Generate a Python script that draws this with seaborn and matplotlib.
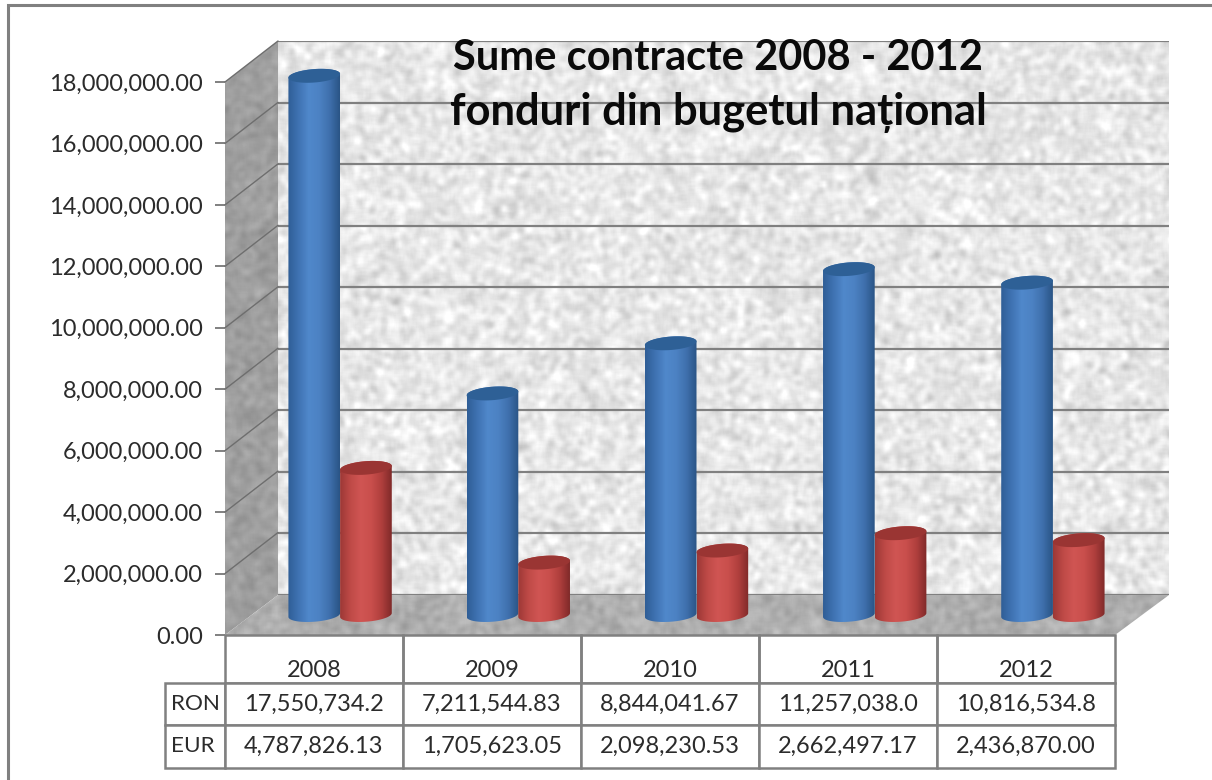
#!/usr/bin/env python
import numpy as np
import pandas as pd
import matplotlib
matplotlib.use("Agg")
import matplotlib.pyplot as plt
import seaborn as sns
from matplotlib.colors import LinearSegmentedColormap
from matplotlib.patches import Polygon
from matplotlib.table import Table

# values
years = ["2008", "2009", "2010", "2011", "2012"]
ron_values = [17550734.2, 7211544.83, 8844041.67, 11257038.0, 10816534.8]
eur_values = [4787826.13, 1705623.05, 2098230.53, 2662497.17, 2436870.00]
ron_labels = ["17,550,734.2", "7,211,544.83", "8,844,041.67", "11,257,038.0", "10,816,534.8"]
eur_labels = ["4,787,826.13", "1,705,623.05", "2,098,230.53", "2,662,497.17", "2,436,870.00"]
y_ticks = [0, 2e6, 4e6, 6e6, 8e6, 10e6, 12e6, 14e6, 16e6, 18e6]
title_lines = ["Sume contracte 2008 - 2012", "fonduri din bugetul național"]

W, H = 1212, 780
GREY = "#808080"
TEXT = "#2b2b2b"

sns.set_theme(style="white")
plt.rcParams["font.family"] = ["Lato", "DejaVu Sans"]


def add_axes_px(fig, left, top, right, bottom, **kw):
    """Axes placed with pixel edges, y counted from the top of the image."""
    return fig.add_axes([left / W, 1 - bottom / H, (right - left) / W, (bottom - top) / H], **kw)


def mottled(h, w, mean, std, blur=6):
    """Stone-like wall texture from a sine hash, no data in it."""
    yy, xx = np.mgrid[0:h, 0:w]
    noise = np.sin(xx * 12.9898 + yy * 78.233 + xx * yy * 0.0173) * 43758.5453
    noise = noise - np.floor(noise)
    kernel = np.zeros((h, w))
    kernel[:blur, :blur] = 1 / blur ** 2
    smooth = np.fft.ifft2(np.fft.fft2(noise) * np.fft.fft2(kernel) ** 2).real
    smooth = (smooth - smooth.mean()) / smooth.std()
    return np.clip(mean + std * smooth, 0, 1)


def surface(ax, corners, mean, std):
    pts = np.array(corners)
    x0, x1 = pts[:, 0].min(), pts[:, 0].max()
    y0, y1 = pts[:, 1].min(), pts[:, 1].max()
    im = ax.imshow(mottled(y1 - y0, x1 - x0, mean, std), cmap="gray", vmin=0, vmax=1,
                   extent=(x0, x1, y1, y0), aspect="auto", interpolation="bilinear")
    im.set_clip_path(Polygon(corners, transform=ax.transData))


fig = plt.figure(figsize=(W / 100, H / 100), dpi=100, facecolor="white")

# walls and floor, in image pixels
bg = fig.add_axes([0, 0, 1, 1])
surface(bg, [(278, 41), (1169, 41), (1169, 595), (278, 595)], 0.905, 0.035)
surface(bg, [(225, 82), (278, 41), (278, 595), (225, 635)], 0.62, 0.02)
surface(bg, [(278, 595), (1169, 595), (1115, 635), (225, 635)], 0.68, 0.025)
bg.plot([8, 8, W], [H, 5, 5], color=GREY, lw=2.2, solid_joinstyle="miter")
bg.set_xlim(0, W)
bg.set_ylim(H, 0)
bg.axis("off")

# back wall gridlines and title
ax_back = add_axes_px(fig, 278, 41, 1169, 595)
ax_back.patch.set_alpha(0)
ax_back.set_ylim(0, 18e6)
ax_back.set_yticks(y_ticks)
ax_back.set_xticks([])
ax_back.tick_params(left=False, labelleft=False)
ax_back.grid(axis="y", color=GREY, lw=1.6)
sns.despine(ax=ax_back, left=True, bottom=True, right=True, top=True)
for txt, py, size in zip(title_lines, [58, 113], [30, 31.3]):
    ax_back.text((718 - 278) / 891, 1 - (py - 41) / 554, txt, transform=ax_back.transAxes,
                 ha="center", va="center", fontsize=size, fontweight="bold", color="#0a0a0a")

# front plane: value axis, side wall lines, table
ax_front = add_axes_px(fig, 225, 82, 1115, 635)
ax_front.patch.set_alpha(0)
ax_front.set_xlim(0, 890)
ax_front.set_ylim(0, 18e6)
ax_front.set_yticks(y_ticks)
ax_front.set_yticklabels([f"{v:,.2f}" for v in y_ticks], fontsize=17, color=TEXT)
ax_front.set_xticks([89 + 178 * i for i in range(len(years))])
ax_front.set_xticklabels(years, fontsize=17, color=TEXT)
ax_front.tick_params(axis="y", left=True, length=7.5, width=1.4, color=GREY, pad=8.5)
ax_front.tick_params(axis="x", bottom=False, pad=12)
sns.despine(ax=ax_front, left=True, bottom=True, right=True, top=True)
depth_y = 41 * 18e6 / 553
for v in y_ticks[1:]:
    ax_front.plot([0, 53], [v, v + depth_y], color="#6e6e6e", lw=1.0, clip_on=False)

col_widths = [60] + [178] * 5
row_heights = [48, 42, 43]
rows = [[""] * 6, ["RON"] + ron_labels, ["EUR"] + eur_labels]
tbl = Table(ax_front, bbox=[-60 / 890, -133 / 553, 950 / 890, 133 / 553])
for r, row in enumerate(rows):
    for c, txt in enumerate(row):
        if r == 0 and c == 0:
            continue
        cell = tbl.add_cell(r, c, width=col_widths[c], height=row_heights[r], text=txt,
                            loc="left" if c == 0 else "center", edgecolor=GREY,
                            facecolor="none" if r == 0 else "white")
        cell.set_linewidth(1.8)
        cell.get_text().set_color(TEXT)
tbl.auto_set_font_size(False)
tbl.set_fontsize(17)
for r in (1, 2):
    tbl[r, 0].set_fontsize(16.2)
ax_front.add_table(tbl)

# bars sit half way between front plane and back wall
df = pd.DataFrame({
    "year": years * 2,
    "amount": ron_values + eur_values,
    "currency": ["RON"] * 5 + ["EUR"] * 5,
})
ax_bars = add_axes_px(fig, 251, 62, 1142, 615)
ax_bars.patch.set_alpha(0)
sns.barplot(data=df, x="year", y="amount", hue="currency", hue_order=["RON", "EUR"],
            palette={"RON": "#4f81bd", "EUR": "#c0504d"}, width=0.58, gap=0, dodge=True,
            errorbar=None, legend=False, ax=ax_bars)

PX_X = 5 / 891
PX_Y = 18e6 / 553
ELL_B = 6.7
TILT = np.deg2rad(4.5)
blue_map = LinearSegmentedColormap.from_list(
    "blue_cyl", ["#2f5e96", "#3f72b2", "#5088cb", "#4c82c3", "#3f70ad", "#2a5485"])
red_map = LinearSegmentedColormap.from_list(
    "red_cyl", ["#9c3836", "#bf4a47", "#d05553", "#c94f4c", "#b03f3d", "#7f2a29"])


def ellipse(cx, y, half_w, t):
    px = half_w * np.cos(t) - ELL_B * np.sin(t) * np.sin(TILT)
    py = half_w * np.cos(t) * np.sin(TILT) + ELL_B * np.sin(t) * np.cos(TILT)
    return np.column_stack([cx + px * PX_X, y + py * PX_Y])


styles = [(blue_map, "#2e6096"), (red_map, "#9a3533")]
for k, (container, (cmap, top_col)) in enumerate(zip(ax_bars.containers, styles)):
    for i, bar in enumerate(container):
        bar.set_visible(False)
        x0, w, h = bar.get_x(), bar.get_width(), bar.get_height()
        cx = x0 + w / 2
        half_w = w / 2 / PX_X
        z = 3 + i * 3 + k
        outline = np.vstack([
            ellipse(cx, 0, half_w, np.linspace(np.pi, 2 * np.pi, 50)),
            ellipse(cx, h, half_w, np.linspace(0, np.pi, 50)),
        ])
        body = Polygon(outline, transform=ax_bars.transData)
        im = ax_bars.imshow(np.linspace(0, 1, 256)[None, :], cmap=cmap, vmin=0, vmax=1,
                            aspect="auto", zorder=z,
                            extent=(x0, x0 + w, -15 * PX_Y, h + 15 * PX_Y))
        # the rounded foot hangs below the axes box
        im.set_clip_box(fig.bbox)
        im.set_clip_path(body)
        ax_bars.add_patch(Polygon(ellipse(cx, h, half_w, np.linspace(0, 2 * np.pi, 80)),
                                  facecolor=top_col, edgecolor="none", zorder=z + 0.5,
                                  clip_on=False))

ax_bars.set_xlim(-0.5, 4.5)
ax_bars.set_ylim(0, 18e6)
ax_bars.axis("off")

fig.savefig("out.png", dpi=100)
